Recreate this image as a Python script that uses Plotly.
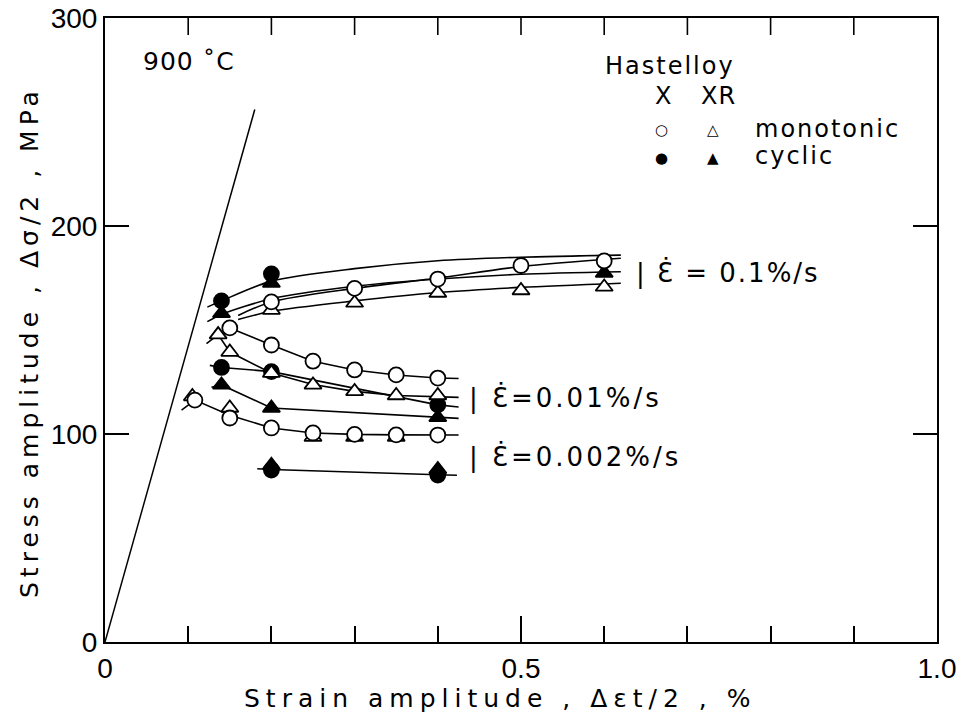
import plotly.graph_objects as go

# ---------------- data ----------------
# elastic line
elastic_x = [0.0, 0.18]
elastic_y = [0.0, 256.0]

# ---- strain rate 0.1 %/s ----
r1_X_mono_x = [0.2, 0.3, 0.4, 0.5, 0.6]
r1_X_mono_y = [163.5, 170.0, 174.5, 181.0, 183.2]
r1_XR_mono_x = [0.2, 0.3, 0.4, 0.5, 0.6]
r1_XR_mono_y = [159.6, 163.0, 167.8, 169.0, 170.7]
r1_X_cyc_x = [0.14, 0.2]
r1_X_cyc_y = [164.0, 177.0]
r1_XR_cyc_x = [0.14, 0.2, 0.6]
r1_XR_cyc_y = [158.0, 172.6, 177.4]
# fitted curves
r1_cA_x = [0.123, 0.14, 0.2, 0.3, 0.4, 0.5, 0.62]
r1_cA_y = [161.0, 164.0, 173.5, 179.5, 183.3, 185.0, 186.0]
r1_cB_x = [0.16, 0.2, 0.3, 0.4, 0.5, 0.62]
r1_cB_y = [157.0, 163.5, 170.0, 175.0, 180.5, 184.5]
r1_cC_x = [0.123, 0.14, 0.2, 0.3, 0.4, 0.5, 0.62]
r1_cC_y = [154.0, 157.5, 165.0, 171.0, 174.5, 176.8, 178.0]
r1_cD_x = [0.16, 0.2, 0.3, 0.4, 0.5, 0.62]
r1_cD_y = [155.0, 159.0, 164.0, 168.0, 170.5, 172.5]

# ---- strain rate 0.01 %/s ----
r2_X_mono_x = [0.15, 0.2, 0.25, 0.3, 0.35, 0.4]
r2_X_mono_y = [151.0, 142.8, 135.0, 130.8, 128.4, 126.9]
r2_XR_mono_x = [0.136, 0.15, 0.2, 0.25, 0.3, 0.35, 0.4]
r2_XR_mono_y = [147.8, 139.4, 129.3, 123.6, 120.5, 118.5, 118.5]
r2_X_cyc_x = [0.14, 0.2, 0.4]
r2_X_cyc_y = [132.0, 130.0, 114.0]
r2_XR_cyc_x = [0.14, 0.2, 0.4]
r2_XR_cyc_y = [123.6, 112.5, 108.0]
r2_cXm_x = [0.15, 0.2, 0.25, 0.3, 0.35, 0.4, 0.425]
r2_cXm_y = [151.0, 142.8, 135.0, 130.8, 128.4, 126.9, 126.7]
r2_cXRm_x = [0.122, 0.136, 0.15, 0.2, 0.25, 0.3, 0.35, 0.4, 0.425]
r2_cXRm_y = [143.5, 147.8, 139.4, 129.3, 123.8, 120.5, 118.5, 118.0, 117.6]
r2_cXc_x = [0.126, 0.14, 0.2, 0.4, 0.425]
r2_cXc_y = [133.0, 132.0, 130.0, 114.0, 113.0]
r2_cXRc_x = [0.128, 0.14, 0.2, 0.4, 0.425]
r2_cXRc_y = [122.5, 123.6, 112.5, 108.0, 107.5]

# ---- strain rate 0.002 %/s ----
r3_X_mono_x = [0.108, 0.15, 0.2, 0.25, 0.3, 0.35, 0.4]
r3_X_mono_y = [116.3, 107.7, 102.9, 100.5, 99.8, 99.6, 99.5]
r3_XR_mono_x = [0.105, 0.15, 0.25, 0.3, 0.35]
r3_XR_mono_y = [118.0, 112.5, 98.5, 98.5, 98.5]
r3_X_cyc_x = [0.2, 0.4]
r3_X_cyc_y = [82.7, 80.3]
r3_XR_cyc_x = [0.2, 0.4]
r3_XR_cyc_y = [85.0, 83.0]
r3_cXm_x = [0.092, 0.108, 0.15, 0.2, 0.25, 0.3, 0.35, 0.4, 0.425]
r3_cXm_y = [111.5, 116.3, 109.0, 102.9, 100.5, 99.8, 99.6, 99.5, 99.5]
r3_cc_x = [0.183, 0.2, 0.4, 0.423]
r3_cc_y = [83.3, 82.9, 80.4, 80.2]

# top-frame tick positions (same 0.1 spacing as the bottom minor ticks)
top_tick_vals = [0.1, 0.2, 0.3, 0.4, 0.5, 0.6, 0.7, 0.8, 0.9]

# ---------------- figure ----------------
fig = go.Figure()
BLK = "black"
LW = 1.6

def line(x, y, shape="linear", w=LW):
    fig.add_trace(go.Scatter(x=x, y=y, mode="lines",
                             line=dict(color=BLK, width=w, shape=shape,
                                       smoothing=0.8 if shape == "spline" else None),
                             hoverinfo="skip", showlegend=False))

def marks(x, y, symbol, filled, size):
    fig.add_trace(go.Scatter(x=x, y=y, mode="markers",
                             marker=dict(symbol=symbol, size=size,
                                         color=BLK if filled else "white",
                                         line=dict(color=BLK, width=1.8)),
                             showlegend=False))

line(elastic_x, elastic_y, w=1.5)
for cx, cy in [(r1_cA_x, r1_cA_y), (r1_cB_x, r1_cB_y), (r1_cC_x, r1_cC_y), (r1_cD_x, r1_cD_y)]:
    line(cx, cy, shape="spline")
for cx, cy in [(r2_cXm_x, r2_cXm_y), (r2_cXRm_x, r2_cXRm_y), (r2_cXc_x, r2_cXc_y), (r2_cXRc_x, r2_cXRc_y),
               (r3_cXm_x, r3_cXm_y), (r3_cc_x, r3_cc_y)]:
    line(cx, cy)

CS = 15
TS = 15
for mx, my in [(r1_X_cyc_x, r1_X_cyc_y), (r2_X_cyc_x, r2_X_cyc_y), (r3_X_cyc_x, r3_X_cyc_y)]:
    marks(mx, my, "circle", True, CS)
for mx, my in [(r1_XR_mono_x, r1_XR_mono_y), (r2_XR_mono_x, r2_XR_mono_y), (r3_XR_mono_x, r3_XR_mono_y)]:
    marks(mx, my, "triangle-up", False, TS)
for mx, my in [(r1_XR_cyc_x, r1_XR_cyc_y), (r2_XR_cyc_x, r2_XR_cyc_y), (r3_XR_cyc_x, r3_XR_cyc_y)]:
    marks(mx, my, "triangle-up", True, TS)
for mx, my in [(r1_X_mono_x, r1_X_mono_y), (r2_X_mono_x, r2_X_mono_y), (r3_X_mono_x, r3_X_mono_y)]:
    marks(mx, my, "circle", False, CS)

# tick marks hanging from the top frame edge (x through the data axis)
for v in top_tick_vals:
    fig.add_shape(type="line", xref="x", yref="paper", x0=v, x1=v, y0=1.0, y1=1.0 - 17 / 624,
                  line=dict(color=BLK, width=1.6))

TF = "Liberation Sans, Arial, sans-serif"
LF = "DejaVu Sans, sans-serif"

def ann(text, px, py, size=25, xanchor="left", font=LF, ls=0, **kw):
    # px, py: position in reference-image pixels (plot area 105..937 x 18..642)
    if ls:
        text = '<span style="letter-spacing:%dpx">%s</span>' % (ls, text)
    fig.add_annotation(text=text, x=(px - 105) / 832, y=(642 - py) / 624, xref="paper", yref="paper",
                       xanchor=xanchor, yanchor="middle", showarrow=False,
                       font=dict(family=font, size=size, color=BLK), **kw)

ann("900 ˚C", 141, 62, size=25, ls=1)
ann("Hastelloy", 603, 66, size=24, ls=2)
ann("X", 663, 96, size=24, xanchor="center")
ann("XR", 718, 96, size=24, xanchor="center", ls=1)
ann("○", 661, 130, size=15, xanchor="center")
ann("△", 713, 130, size=15, xanchor="center")
ann("monotonic", 753, 129, size=24, ls=2)
ann("●", 661, 158, size=15, xanchor="center")
ann("▲", 713, 158, size=15, xanchor="center")
ann("cyclic", 753, 156, size=24, ls=2)
ann("| Ɛ̇ = 0.1%/s", 634, 273, size=26, ls=2)
ann("| Ɛ̇=0.01%/s", 467, 398, size=26, ls=3)
ann("| Ɛ̇=0.002%/s", 467, 457, size=26, ls=3)
ann("Strain amplitude , Δεt/2 , %", 500, 699, size=25, xanchor="center", ls=6)
ann("Stress amplitude , Δσ/2 , MPa", 30, 342, size=25, xanchor="center", textangle=-90, ls=5)

fig.update_layout(
    width=962, height=724,
    margin=dict(l=105, r=25, t=18, b=82, autoexpand=False),
    paper_bgcolor="white", plot_bgcolor="white",
    showlegend=False,
    xaxis=dict(range=[0, 1.0], showgrid=False, zeroline=False, showline=True, linecolor=BLK, linewidth=2,
               automargin=False, mirror=True,
               ticks="inside", ticklen=26, tickwidth=1.6, tickcolor=BLK,
               tickmode="linear", tick0=0, dtick=0.5, tickformat=".1f", labelalias={"0.0": "0"},
               tickfont=dict(family=TF, size=28, color=BLK),
               minor=dict(tick0=0, dtick=0.1, ticks="inside", ticklen=16, tickwidth=1.6, tickcolor=BLK)),
    yaxis=dict(range=[0, 300], showgrid=False, zeroline=False, showline=True, linecolor=BLK, linewidth=2,
               automargin=False,
               mirror="ticks", ticks="inside", ticklen=24, tickwidth=1.6, tickcolor=BLK,
               tickmode="linear", tick0=0, dtick=100,
               tickfont=dict(family=TF, size=28, color=BLK)),
)

# remove the default 8px page margin so the figure sits at the window's top-left corner
fig.write_html("out.html", config={"displayModeBar": False},
               post_script="document.body.style.margin='0';")
